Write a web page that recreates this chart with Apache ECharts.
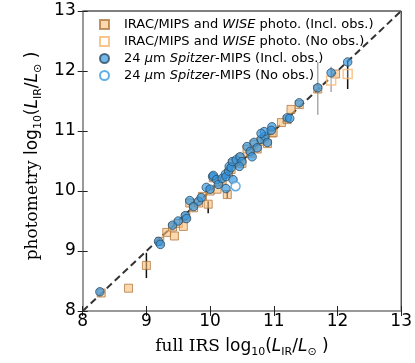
<!DOCTYPE html>
<html>
<head>
<meta charset="utf-8">
<script src="https://cdn.jsdelivr.net/npm/echarts@6/dist/echarts.min.js"></script>
<style>
  html, body { margin: 0; padding: 0; background: #fff; }
  #chart { width: 415px; height: 363px; }
</style>
</head>
<body>
<div id="chart"></div>
<script>
// [full IRS, photometry] pairs
const oneToOne = [[8, 8], [13, 13]]

const photoIncl = [
  [8.29, 8.30], [8.72, 8.38], [9.00, 8.76], [9.21, 9.16], [9.32, 9.31], [9.44, 9.25],
  [9.41, 9.40], [9.50, 9.46], [9.58, 9.41], [9.62, 9.57], [9.68, 9.80], [9.74, 9.72],
  [9.82, 9.80], [9.88, 9.91], [9.97, 9.78], [10.00, 10.00], [10.05, 10.22], [10.11, 10.03],
  [10.14, 10.15], [10.19, 10.18], [10.27, 9.94], [10.29, 10.30], [10.33, 10.36], [10.35, 10.46],
  [10.41, 10.49], [10.47, 10.55], [10.50, 10.46], [10.58, 10.70], [10.63, 10.63], [10.69, 10.78],
  [10.74, 10.70], [10.80, 10.83], [10.86, 10.88], [10.90, 10.79], [10.97, 10.97], [10.99, 10.97],
  [11.12, 11.14], [11.21, 11.19], [11.27, 11.36], [11.40, 11.44], [11.69, 11.70], [11.97, 11.95]
]
const photoNoObs = [[11.90, 11.84], [12.16, 11.95]]

const mipsIncl = [
  [8.27, 8.32], [9.19, 9.16], [9.22, 9.11], [9.41, 9.43], [9.50, 9.50], [9.61, 9.59],
  [9.63, 9.54], [9.68, 9.84], [9.74, 9.74], [9.82, 9.83], [9.86, 9.89], [9.94, 10.06],
  [10.00, 10.03], [10.04, 10.24], [10.05, 10.26], [10.10, 10.19], [10.13, 10.11], [10.19, 10.21],
  [10.24, 10.28], [10.25, 10.24], [10.29, 10.33], [10.30, 10.41], [10.33, 10.39], [10.25, 10.04],
  [10.36, 10.19], [10.35, 10.49], [10.41, 10.52], [10.47, 10.57], [10.50, 10.49], [10.46, 10.41],
  [10.58, 10.74], [10.63, 10.66], [10.69, 10.81], [10.74, 10.72], [10.66, 10.57], [10.80, 10.86],
  [10.86, 10.91], [10.85, 10.99], [10.97, 11.07], [10.80, 10.96], [10.90, 10.81], [10.96, 11.01],
  [11.21, 11.22], [11.25, 11.21], [11.40, 11.47], [11.69, 11.72], [11.90, 11.97], [12.16, 12.15]
]
const mipsNoObs = [[10.40, 10.08]]

// error bars [x, low, high]
const photoErr = [[9.00, 8.55, 8.97], [9.97, 9.63, 9.83], [10.27, 9.88, 10.01], [12.16, 11.70, 12.15]]
const mipsErr = [[11.69, 11.27, 12.15], [11.90, 11.65, 12.07]]

const names = [
  'IRAC/MIPS and WISE photo. (Incl. obs.)',
  'IRAC/MIPS and WISE photo. (No obs.)',
  '24 μm Spitzer-MIPS (Incl. obs.)',
  '24 μm Spitzer-MIPS (No obs.)'
]

const chart = echarts.init(document.getElementById('chart'))

const nameRich = {
  s: { fontFamily: 'DejaVu Serif', fontSize: 17, lineHeight: 22, color: '#000' },
  n: { fontFamily: 'DejaVu Sans', fontSize: 17, lineHeight: 22, color: '#000' },
  i: { fontFamily: 'DejaVu Sans', fontStyle: 'italic', fontSize: 17, lineHeight: 22, color: '#000' },
  b: { fontFamily: 'DejaVu Sans', fontSize: 11, lineHeight: 12, verticalAlign: 'bottom', color: '#000' }
}
const lumText = '{n|log}{b|10}{n|(}{i|L}{b|IR}{n|/}{i|L}{b|⊙}{n| )}'

const errBars = (data, color) => ({
  type: 'custom',
  data: data,
  encode: { x: 0, y: [1, 2] },
  silent: true,
  z: 1,
  renderItem: (params, api) => {
    const a = api.coord([api.value(0), api.value(1)])
    const b = api.coord([api.value(0), api.value(2)])
    return {
      type: 'line',
      shape: { x1: a[0], y1: a[1], x2: b[0], y2: b[1] },
      style: { stroke: color, lineWidth: 1.5 }
    }
  }
})

const axisBase = {
  type: 'value', min: 8, max: 13, interval: 1,
  splitLine: { show: false }
}

chart.setOption({
  animation: false,
  grid: { left: 82.7, right: 12.3, top: 11, bottom: 51, show: true, borderColor: '#000', borderWidth: 1 },
  legend: {
    orient: 'vertical', left: 99, top: 18, padding: 0,
    itemWidth: 9, itemHeight: 9, itemGap: 4,
    data: names,
    formatter: n => n.replace('WISE', '{i|WISE}').replace('Spitzer', '{i|Spitzer}').replace('μ', '{i|μ}'),
    textStyle: {
      fontFamily: 'DejaVu Sans', fontSize: 13, lineHeight: 13, color: '#000', padding: [0, 0, 0, 10],
      rich: { i: { fontFamily: 'DejaVu Sans', fontStyle: 'italic', fontSize: 13, lineHeight: 13, color: '#000' } }
    }
  },
  xAxis: [
    Object.assign({}, axisBase, {
      position: 'bottom',
      axisLine: { lineStyle: { color: '#999', width: 2 } },
      axisTick: { length: 5, lineStyle: { color: '#222' } },
      axisLabel: { fontFamily: 'DejaVu Sans', fontSize: 17, color: '#000', margin: 2 },
      name: '{s|full IRS }' + lumText,
      nameLocation: 'middle', nameGap: 25,
      nameTextStyle: { rich: nameRich }
    }),
    Object.assign({}, axisBase, {
      position: 'bottom',
      axisLine: { show: false },
      axisTick: { inside: true, length: 5, lineStyle: { color: '#222' } },
      axisLabel: { show: false }
    })
  ],
  yAxis: [
    Object.assign({}, axisBase, {
      position: 'left',
      axisLine: { lineStyle: { color: '#999', width: 2 } },
      axisTick: { length: 5, lineStyle: { color: '#222' } },
      axisLabel: { fontFamily: 'DejaVu Sans', fontSize: 17, color: '#000', margin: 7 },
      name: '{s|photometry }' + lumText,
      nameLocation: 'middle', nameRotate: 90, nameGap: 34,
      nameTextStyle: { rich: nameRich, padding: [0, 0, 0, 10] }
    }),
    Object.assign({}, axisBase, {
      position: 'left',
      axisLine: { show: false },
      axisTick: { inside: true, length: 5, lineStyle: { color: '#222' } },
      axisLabel: { show: false }
    })
  ],
  series: [
    {
      type: 'line', data: oneToOne, symbol: 'none', silent: true, z: 0,
      lineStyle: { color: '#333', width: 2, type: [7, 4] }
    },
    errBars(photoErr, '#111'),
    errBars(mipsErr, '#aaa'),
    {
      name: names[0], type: 'scatter', data: photoIncl, symbol: 'rect', symbolSize: 8, z: 2,
      itemStyle: { color: 'rgba(249,190,120,0.75)', borderColor: 'rgba(170,110,50,0.9)', borderWidth: 1 }
    },
    {
      name: names[1], type: 'scatter', data: photoNoObs, symbol: 'rect', symbolSize: 9, z: 2,
      itemStyle: { color: 'rgba(255,255,255,0.3)', borderColor: '#f7b870', borderWidth: 1.5 }
    },
    {
      name: names[2], type: 'scatter', data: mipsIncl, symbol: 'circle', symbolSize: 8.5, z: 3,
      itemStyle: { color: 'rgba(50,150,225,0.85)', borderColor: '#2d4c63', borderWidth: 1 }
    },
    {
      name: names[3], type: 'scatter', data: mipsNoObs, symbol: 'circle', symbolSize: 9, z: 3,
      itemStyle: { color: 'rgba(255,255,255,0.8)', borderColor: '#3a9be0', borderWidth: 1.5 }
    }
  ]
})
</script>
</body>
</html>
